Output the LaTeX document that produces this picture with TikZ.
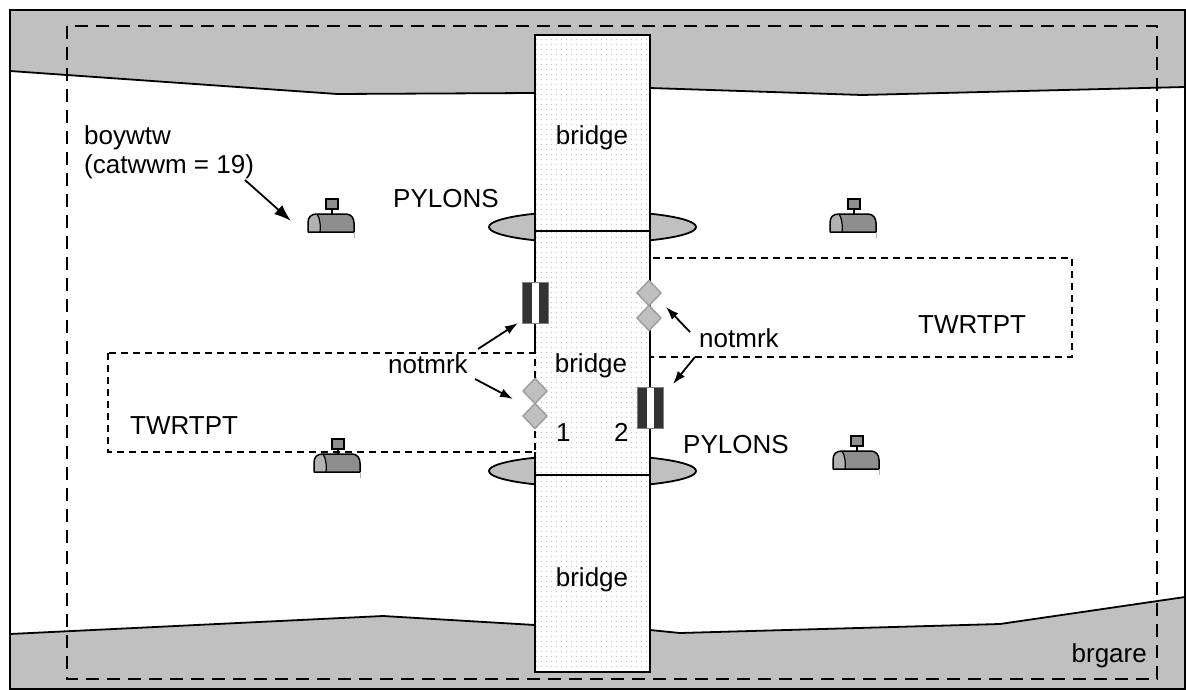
\documentclass[tikz,border=0pt]{standalone}
\usepackage{fontspec}
\setmainfont{Liberation Sans}
\usetikzlibrary{arrows.meta,patterns}
\pgfdeclarepatternformonly{bdots}{\pgfqpoint{0pt}{0pt}}{\pgfqpoint{5.4pt}{5.4pt}}{\pgfqpoint{5.4pt}{5.4pt}}{\pgfpathcircle{\pgfqpoint{2.7pt}{2.7pt}}{0.75pt}\pgfusepath{fill}}
\definecolor{land}{HTML}{C0C0C0}
\definecolor{buoydark}{HTML}{8E8E8E}
\definecolor{buoylight}{HTML}{B2B2B2}
\definecolor{dayfill}{HTML}{C0C0C0}
\definecolor{dayline}{HTML}{A0A0A0}
\definecolor{barcol}{HTML}{333333}
\begin{document}
\begin{tikzpicture}[x=1pt,y=-1pt,
  font=\fontsize{26}{30}\selectfont,
  shoreline/.style={draw=black, line width=1.8pt, line join=round},
  areabox/.style={draw=black, line width=1.8pt, dash pattern=on 13pt off 8pt},
  zonebox/.style={draw=black, line width=1.4pt, dash pattern=on 7pt off 5pt},
  lbl/.style={inner sep=0pt, anchor=base west},
  ptr/.style={draw=black, line width=1.8pt, -{Latex[length=13pt,width=9pt]}},
  ptrbig/.style={draw=black, line width=1.8pt, -{Latex[length=17pt,width=12pt]}},
  bridgeseg/.style={draw=black, line width=1.8pt, anchor=north west, inner sep=0pt, outer sep=0pt,
     preaction={fill=white}, pattern=bdots, pattern color=gray!45, minimum width=115pt},
  buoy/.pic={
    \fill[buoydark] (-23,0) -- (-23,-9) .. controls (-23,-15) and (-20,-18) .. (-14,-18) -- (15,-18) .. controls (20,-18) and (23,-14) .. (23,-9) -- (23,0) -- cycle;
    \fill[buoylight] (-23,0) -- (-23,-9) .. controls (-23,-15) and (-20,-18) .. (-14,-18) .. controls (-11,-14) and (-10,-5) .. (-11,0) -- cycle;
    \draw[line width=1.5pt, line join=round] (-23,0) -- (-23,-9) .. controls (-23,-15) and (-20,-18) .. (-14,-18) -- (15,-18) .. controls (20,-18) and (23,-14) .. (23,-9) -- (23,0) -- cycle;
    \draw[line width=1.2pt] (-14,-18) .. controls (-11,-14) and (-10,-5) .. (-11,0);
    \draw[gray!60, line width=0.8pt] (23,0) -- (23,6);
    \draw[line width=1.2pt] (1,-18) -- (1,-23);
    \draw[fill=buoydark, line width=1.2pt] (-5,-33) rectangle (7,-23);
  },
  leadmark/.pic={
    \fill[barcol] (0,0) rectangle (10,41);
    \fill[white] (10,0) rectangle (17,41);
    \fill[barcol] (17,0) rectangle (26,41);
    \draw[gray, line width=0.8pt] (0,0) rectangle (26,41);
  },
  daymark/.pic={
    \draw[fill=dayfill, draw=dayline, line width=1.6pt, line join=round] (0,-12.5) -- (12,0) -- (0,12.5) -- (-12,0) -- cycle;
    \draw[fill=dayfill, draw=dayline, line width=1.6pt, line join=round] (0,12.5) -- (12,25) -- (0,37.5) -- (-12,25) -- cycle;
  }
]
\useasboundingbox (0,0) rectangle (1186,690);
% frame background
\fill[white] (10,10) rectangle (1185,689);
% land
\fill[land] (10,10) -- (1185,10) -- (1185,87) -- (862,95) -- (650,88) -- (535,93) -- (337,94) -- (10,71) -- cycle;
\draw[shoreline] (10,71) -- (337,94) -- (535,93) -- (650,88) -- (862,95) -- (1185,87);
\fill[land] (10,689) -- (1185,689) -- (1185,597) -- (1000,624) -- (680,633) -- (650,630) -- (535,625) -- (383,616) -- (10,634) -- cycle;
\draw[shoreline] (10,634) -- (383,616) -- (535,625) -- (650,630) -- (680,633) -- (1000,624) -- (1185,597);
\draw[line width=1.5pt] (10,10) rectangle (1185,689);
% bridge area
\draw[areabox] (67,26) rectangle (1157,679);
% pylons
\draw[fill=land, line width=1.8pt] (592.5,227) ellipse [x radius=103.5pt, y radius=16pt];
\draw[fill=land, line width=1.8pt] (592.5,471) ellipse [x radius=103.5pt, y radius=16pt];
% bridge segments
\node[bridgeseg, minimum height=196pt] (b1) at (535,35) {};
\node[bridgeseg, minimum height=244pt] (b2) at (535,231) {};
\node[bridgeseg, minimum height=197pt] (b3) at (535,475) {};
% twrtpt zones
\draw[white, line width=2.2pt] (535,353) -- (535,452);
\draw[zonebox] (108,353) rectangle (535,452);
\draw[zonebox] (650,258) rectangle (1072,357);
% markers
\pic (lmL) at (522,282) {leadmark};
\pic (lmR) at (637,387) {leadmark};
\pic (dmR) at (649,293) {daymark};
\pic (dmL) at (535,391) {daymark};
% buoys
\pic (bTL) at (331,232) {buoy};
\pic (bTR) at (853,232) {buoy};
\pic (bBL) at (337,472) {buoy};
\pic (bBR) at (856,469) {buoy};
% labels
\node[inner sep=0pt, anchor=base] (t1) at (592,145) {bridge};
\node[inner sep=0pt, anchor=base] (t2) at (591,372) {bridge};
\node[inner sep=0pt, anchor=base] (t3) at (592,586) {bridge};
\node[lbl] (py1) at (393,207) {PYLONS};
\node[lbl] (py2) at (683,453) {PYLONS};
\node[lbl] (by1) at (84,145) {boywtw};
\node[lbl] (by2) at (84,173) {(catwwm = 19)};
\node[lbl] (tw1) at (918,333) {TWRTPT};
\node[lbl] (tw2) at (130,434) {TWRTPT};
\node[lbl] (nm1) at (388,373) {notmrk};
\node[lbl] (nm2) at (699,347) {notmrk};
\node[lbl] (n1) at (556,441) {1};
\node[lbl] (n2) at (614,441) {2};
\node[inner sep=0pt, anchor=base east] (ar) at (1147,662) {brgare};
% pointers
\coordinate (a0s) at (245,180); \coordinate (a0e) at (291,221);
\coordinate (a1s) at (478,349); \coordinate (a1e) at (518,323);
\coordinate (a2s) at (475,379); \coordinate (a2e) at (513,399);
\coordinate (a3s) at (690,332); \coordinate (a3e) at (666,307);
\coordinate (a4s) at (695,357); \coordinate (a4e) at (673,384);
\draw[ptrbig] (a0s) -- (a0e);
\draw[ptr] (a1s) -- (a1e);
\draw[ptr] (a2s) -- (a2e);
\draw[ptr] (a3s) -- (a3e);
\draw[ptr] (a4s) -- (a4e);
\end{tikzpicture}
\end{document}
